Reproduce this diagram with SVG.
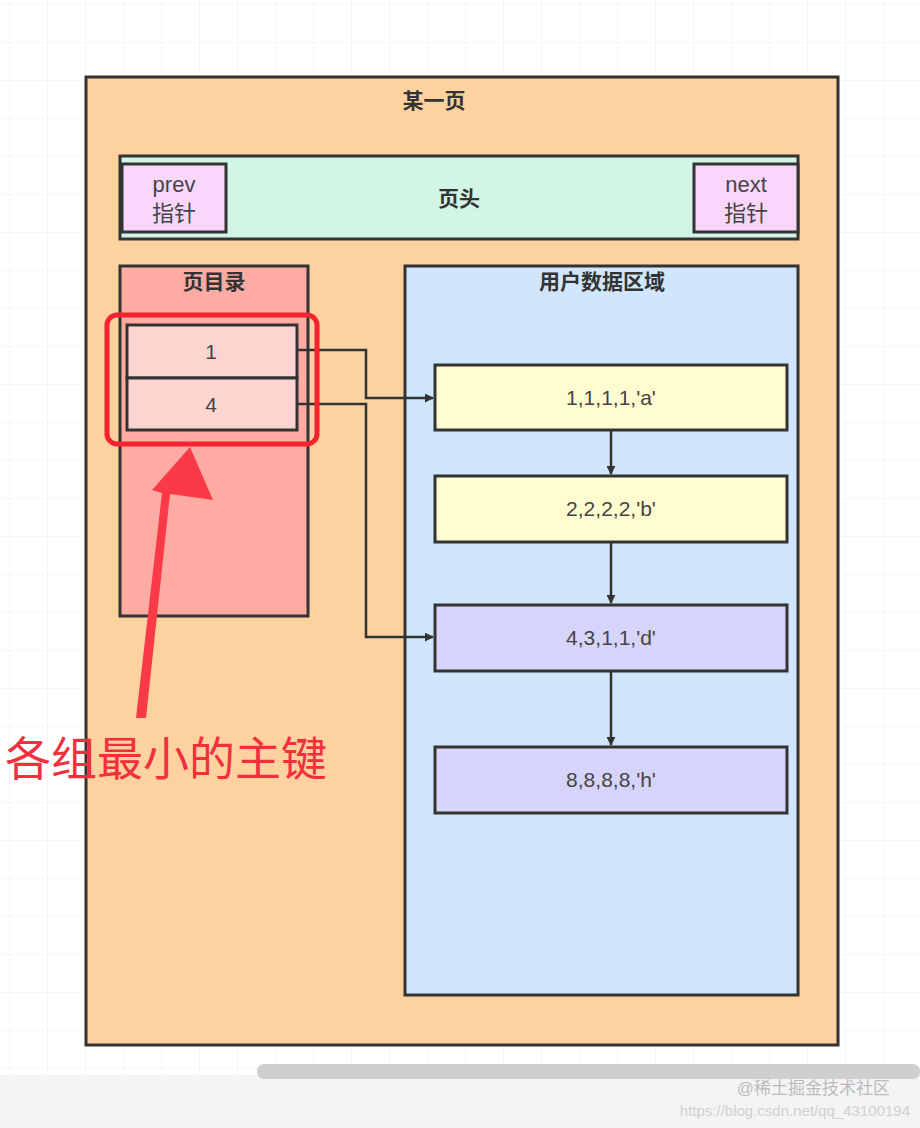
<svg xmlns="http://www.w3.org/2000/svg" width="920" height="1128" viewBox="0 0 920 1128">
<defs>
<pattern id="grid" width="38" height="38" patternUnits="userSpaceOnUse" x="10" y="5"><path d="M38 0V38M0 38H38" fill="none" stroke="#ececec" stroke-width="1"/></pattern>
<marker id="ah" viewBox="0 0 10 10" refX="9" refY="5" markerWidth="9" markerHeight="9" markerUnits="userSpaceOnUse" orient="auto"><path d="M0 0L10 5L0 10Z" fill="#333"/></marker>
</defs>
<style>
.b{stroke:#333;stroke-width:3}
.t{font-family:"Liberation Sans","Noto Sans CJK SC",sans-serif;fill:#444;text-anchor:middle}
.h{font-weight:bold;font-size:21px;fill:#333}
.c{fill:none;stroke:#333;stroke-width:2.5}
</style>
<rect width="920" height="1128" fill="#fff"/>
<rect width="920" height="1075" fill="url(#grid)"/>
<rect y="1075" width="920" height="53" fill="#f4f4f4"/>
<rect x="257" y="1064" width="663" height="15" rx="7" fill="#cfcfcf"/>
<g id="page"><rect x="86" y="77" width="752" height="968" fill="#fdd29f" class="b"/><text class="t h" x="434" y="108">某一页</text></g>
<g id="header"><rect x="120" y="156" width="678" height="83" fill="#d2f6e5" class="b"/><text class="t h" x="459" y="206">页头</text></g>
<g id="prev"><rect x="122" y="164" width="104" height="68" fill="#f9d6fa" class="b"/><text class="t" font-size="22" x="174" y="192">prev</text><text class="t" font-size="22" x="174" y="221">指针</text></g>
<g id="next"><rect x="694" y="164" width="104" height="68" fill="#f9d6fa" class="b"/><text class="t" font-size="22" x="746" y="192">next</text><text class="t" font-size="22" x="746" y="221">指针</text></g>
<g id="dir"><rect x="120" y="266" width="188" height="350" fill="#feaca3" class="b"/><text class="t h" x="214" y="289">页目录</text></g>
<g id="slot1"><rect x="127" y="325" width="170" height="53" fill="#fdd5d0" class="b"/><text class="t" font-size="21" x="211" y="359">1</text></g>
<g id="slot4"><rect x="127" y="378" width="170" height="52" fill="#fdd5d0" class="b"/><text class="t" font-size="21" x="211" y="412">4</text></g>
<g id="user"><rect x="405" y="266" width="393" height="729" fill="#d0e6fc" class="b"/><text class="t h" x="602" y="289">用户数据区域</text></g>
<g id="ra"><rect x="435" y="365" width="352" height="65" fill="#fffccf" class="b"/><text class="t" font-size="21" x="611" y="405">1,1,1,1,'a'</text></g>
<g id="rb"><rect x="435" y="476" width="352" height="66" fill="#fffccf" class="b"/><text class="t" font-size="21" x="611" y="516">2,2,2,2,'b'</text></g>
<g id="rd"><rect x="435" y="605" width="352" height="66" fill="#d6d4fb" class="b"/><text class="t" font-size="21" x="611" y="645">4,3,1,1,'d'</text></g>
<g id="rh"><rect x="435" y="747" width="352" height="66" fill="#d6d4fb" class="b"/><text class="t" font-size="21" x="611" y="787">8,8,8,8,'h'</text></g>
<g id="connectors">
<path class="c" d="M297 350H366V398H433" marker-end="url(#ah)"/>
<path class="c" d="M297 404H366V637H433" marker-end="url(#ah)"/>
<path class="c" d="M611 430V474" marker-end="url(#ah)"/>
<path class="c" d="M611 542V603" marker-end="url(#ah)"/>
<path class="c" d="M611 671V745" marker-end="url(#ah)"/>
</g>
<g id="annotation">
<rect x="107" y="315" width="210" height="129" rx="10" fill="none" stroke="#f4232e" stroke-width="5"/>
<polygon points="136,718 146,718 170,494 213,500 190,447 152,490 162,493" fill="#fb3a48"/>
<text x="5" y="775" font-family="Liberation Sans,'Noto Sans CJK SC',sans-serif" font-size="46" fill="#f2303d">各组最小的主键</text>
</g>
<text x="890" y="1094" text-anchor="end" font-family="Liberation Sans,'Noto Sans CJK SC',sans-serif" font-size="17" fill="#bbb">@稀土掘金技术社区</text>
<text x="910" y="1116" text-anchor="end" font-family="Liberation Sans,sans-serif" font-size="15" fill="#d0d0d0">https://blog.csdn.net/qq_43100194</text>
</svg>
